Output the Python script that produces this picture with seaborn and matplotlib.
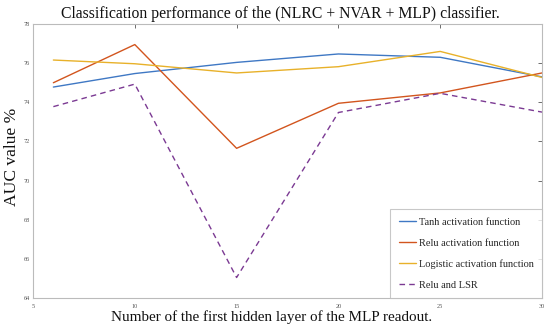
import matplotlib
matplotlib.use("Agg")
import matplotlib.pyplot as plt
import seaborn as sns
import pandas as pd

hidden = [6, 10, 15, 20, 25, 30]
tanh = [74.78, 75.47, 76.04, 76.47, 76.30, 75.30]
relu = [75.00, 76.95, 71.65, 73.95, 74.48, 75.50]
logistic = [76.16, 75.97, 75.50, 75.82, 76.60, 75.27]
relu_lsr = [73.78, 74.93, 65.05, 73.48, 74.46, 73.50]

labels = ["Tanh activation function", "Relu activation function",
          "Logistic activation function", "Relu and LSR"]
colors = ["#3f78c4", "#d2551e", "#e8b12a", "#7b3a93"]
dashes = [(), (), (), (4, 3)]

sns.set_style("white")
plt.rcParams['font.family'] = ['Liberation Serif', 'DejaVu Serif']

fig = plt.figure(figsize=(5.5, 3.29), dpi=100)
ax = fig.add_axes([0.06, 0.094, 0.9255, 0.833])

for vals, lab, col, ds in zip([tanh, relu, logistic, relu_lsr], labels, colors, dashes):
    df = pd.DataFrame({"x": hidden, "y": vals})
    sns.lineplot(data=df, x="x", y="y", ax=ax, color=col, label=lab, linewidth=1.0,
                 dashes=False)
    if ds:
        ax.lines[-1].set_dashes(ds)

ax.set_xlim(5, 30)
ax.set_ylim(64, 78)
ax.set_xticks([5, 10, 15, 20, 25, 30])
ax.set_yticks(range(64, 79, 2))
ax.tick_params(axis='both', which='both', direction='in', length=3, width=0.6,
               labelsize=4.5, colors='#555555', top=True, right=True, pad=4)
ax.tick_params(axis='y', pad=2.5)
for sp in ax.spines.values():
    sp.set_color('#bbbbbb')
    sp.set_linewidth(0.8)
    sp.set_visible(True)

ax.set_title("Classification performance of the (NLRC + NVAR + MLP) classifier.",
             fontsize=11.3, pad=4, color='#111111', x=0.485)
ax.set_xlabel("Number of the first hidden layer of the MLP readout.", fontsize=10.9,
              color='#111111')
ax.xaxis.set_label_coords(0.468, -0.045)
ax.set_ylabel("AUC value %", fontsize=12.6, color='#111111')
ax.yaxis.set_label_coords(-0.026, 0.515)

leg = ax.legend(loc='lower right', fontsize=7.5, frameon=True, fancybox=False,
                borderpad=0.8, labelspacing=1.1, handlelength=1.7, handletextpad=0.25,
                borderaxespad=0)
leg.get_frame().set_edgecolor('#bbbbbb')
leg.get_frame().set_linewidth(0.8)

fig.savefig("out.png", dpi=100)
